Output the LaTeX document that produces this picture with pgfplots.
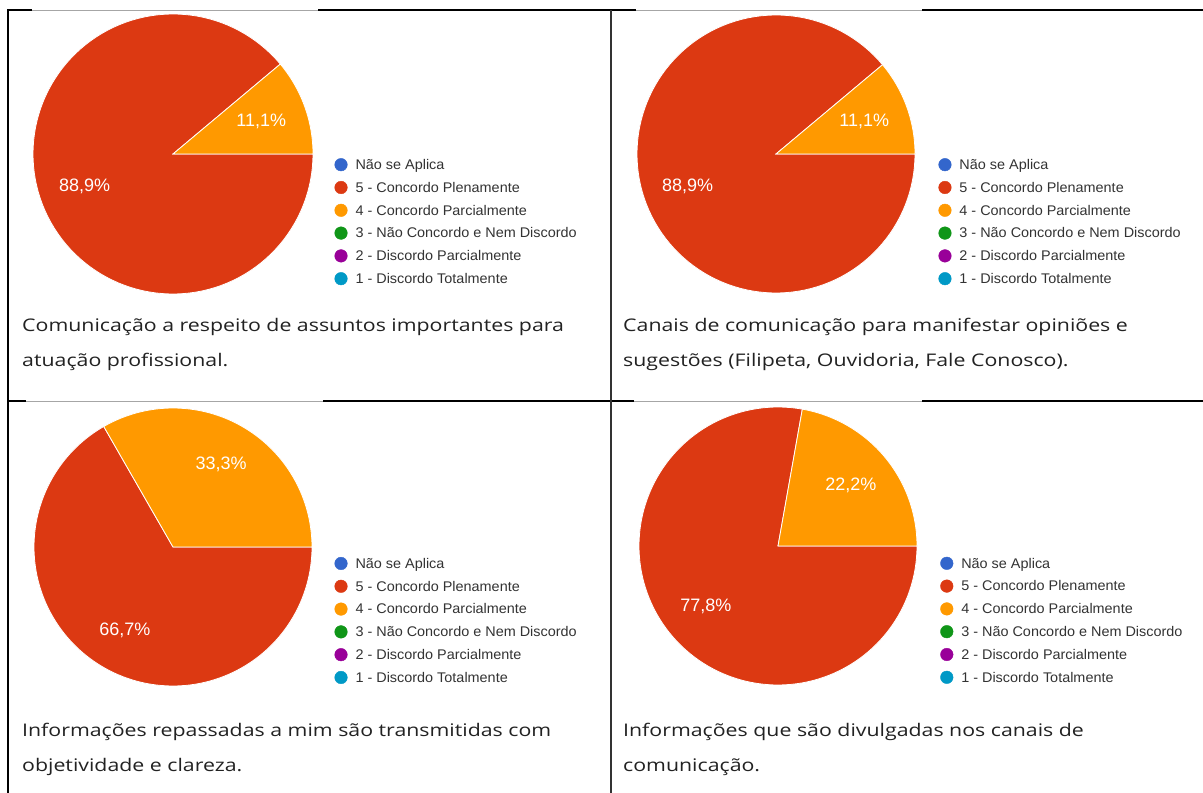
\documentclass[border=0pt]{standalone}
\usepackage{fontspec}
\usepackage{pgfplots}
\pgfplotsset{compat=1.18}
\setmainfont{Open Sans}
\newfontfamily\capfont[FakeStretch=1.225]{Open Sans}
\newfontfamily\legfont[FakeStretch=1.03]{Liberation Sans}
\newfontfamily\lblfont{Liberation Sans}
\definecolor{gBlue}{HTML}{3366CC}
\definecolor{gRed}{HTML}{DC3912}
\definecolor{gOrange}{HTML}{FF9900}
\definecolor{gGreen}{HTML}{109618}
\definecolor{gPurple}{HTML}{990099}
\definecolor{gTeal}{HTML}{0099C6}
\definecolor{txt}{HTML}{222222}
\definecolor{legtxt}{HTML}{333333}

\pgfplotsset{
  piechart/.style={
    x=1pt, y=1pt, xmin=-150, xmax=450, ymin=-150, ymax=150,
    hide axis, clip=false, anchor=origin,
    legend image code/.code={\fill[##1] (0pt,0pt) circle (6.3pt);},
    legend cell align=left,
    legend style={draw=none, fill=none, inner sep=0pt, outer sep=0pt,
       font=\legfont\fontsize{14}{16}\selectfont, text=legtxt,
       row sep=8.3pt, column sep=8pt,
       nodes={inner sep=0pt, text height=12pt, text depth=2.5pt},
       anchor=north west},
  },
}
\tikzset{lbl/.style={font=\lblfont\fontsize{18}{20}\selectfont, text=white, inner sep=0pt},
  captxt/.style={anchor=base west, inner sep=0pt, text=txt, font=\capfont\fontsize{17.4}{20}\selectfont}}

% pie: radius, orange share, red share
\newcommand{\PieSlices}[3]{%
  \addplot[forget plot, fill=gRed, draw=white, line width=0.8pt, domain={3.6*#2}:360, samples=120, variable=\t]
     ({#1*cos(\t)},{#1*sin(\t)}) -- (axis cs:0,0) -- cycle;
  \addplot[forget plot, fill=gOrange, draw=white, line width=0.8pt, domain=0:{3.6*#2}, samples=60, variable=\t]
     ({#1*cos(\t)},{#1*sin(\t)}) -- (axis cs:0,0) -- cycle;
}
\newcommand{\PieLegend}{%
  \addlegendimage{gBlue}\addlegendentry{Não se Aplica}
  \addlegendimage{gRed}\addlegendentry{5 - Concordo Plenamente}
  \addlegendimage{gOrange}\addlegendentry{4 - Concordo Parcialmente}
  \addlegendimage{gGreen}\addlegendentry{3 - Não Concordo e Nem Discordo}
  \addlegendimage{gPurple}\addlegendentry{2 - Discordo Parcialmente}
  \addlegendimage{gTeal}\addlegendentry{1 - Discordo Totalmente}
}

\begin{document}
\begin{tikzpicture}[x=1pt,y=1pt]
\useasboundingbox (0,0) rectangle (1203,793);
\fill[white] (0,0) rectangle (1203,793);

% table rules
\draw[line width=2pt, black] (7,782.5) -- (1203,782.5);
\draw[line width=2pt, black] (8,783.5) -- (8,0);
\draw[line width=2pt, black] (7,392) -- (1203,392);
\draw[line width=1.6pt, black!80] (611,782.5) -- (611,0);
% image top edges
\fill[white] (32,781) rectangle (318,784);
\draw[line width=0.6pt, black!35] (32,782.3) -- (318,782.3);
\fill[white] (636,781) rectangle (922,784);
\draw[line width=0.6pt, black!35] (636,782.3) -- (922,782.3);
\fill[white] (26,390.5) rectangle (323,393.5);
\draw[line width=0.6pt, black!35] (26,391.8) -- (323,391.8);
\fill[white] (634,390.5) rectangle (922,393.5);
\draw[line width=0.6pt, black!35] (634,391.8) -- (922,391.8);

% chart 1
\begin{axis}[piechart, at={(173,639)}, legend style={at={(0.5192,0.4885)}}]
  \PieSlices{140}{11.1}{88.9}
  \PieLegend
  \node[lbl] at (axis cs:{94*cos(19.98)},{94*sin(19.98)}) {11,1\%};
  \node[lbl] at (axis cs:{94*cos(199.98)},{94*sin(199.98)}) {88,9\%};
\end{axis}

% chart 2
\begin{axis}[piechart, at={(776,639)}, legend style={at={(0.5208,0.4885)}}]
  \PieSlices{139}{11.1}{88.9}
  \PieLegend
  \node[lbl] at (axis cs:{94*cos(19.98)},{94*sin(19.98)}) {11,1\%};
  \node[lbl] at (axis cs:{94*cos(199.98)},{94*sin(199.98)}) {88,9\%};
\end{axis}

% chart 3
\begin{axis}[piechart, at={(173,246)}, legend style={at={(0.5192,0.4692)}}]
  \PieSlices{139}{33.3}{66.7}
  \PieLegend
  \node[lbl] at (axis cs:{96*cos(59.94)},{96*sin(59.94)}) {33,3\%};
  \node[lbl] at (axis cs:{96*cos(239.94)},{96*sin(239.94)}) {66,7\%};
\end{axis}

% chart 4
\begin{axis}[piechart, at={(778,247)}, legend style={at={(0.5205,0.4665)}}]
  \PieSlices{139}{22.2}{77.8}
  \PieLegend
  \node[lbl] at (axis cs:{95*cos(39.96)},{95*sin(39.96)}) {22,2\%};
  \node[lbl] at (axis cs:{94*cos(219.96)},{94*sin(219.96)}) {77,8\%};
\end{axis}

% captions
\node[captxt] at (22,461) {Comunicação a respeito de assuntos importantes para};
\node[captxt] at (22,426) {atuação profissional.};
\node[captxt] at (623,461) {Canais de comunicação para manifestar opiniões e};
\node[captxt] at (623,426) {sugestões (Filipeta, Ouvidoria, Fale Conosco).};
\node[captxt] at (22,56) {Informações repassadas a mim são transmitidas com};
\node[captxt] at (22,21) {objetividade e clareza.};
\node[captxt] at (623,56) {Informações que são divulgadas nos canais de};
\node[captxt] at (623,21) {comunicação.};
\end{tikzpicture}
\end{document}
